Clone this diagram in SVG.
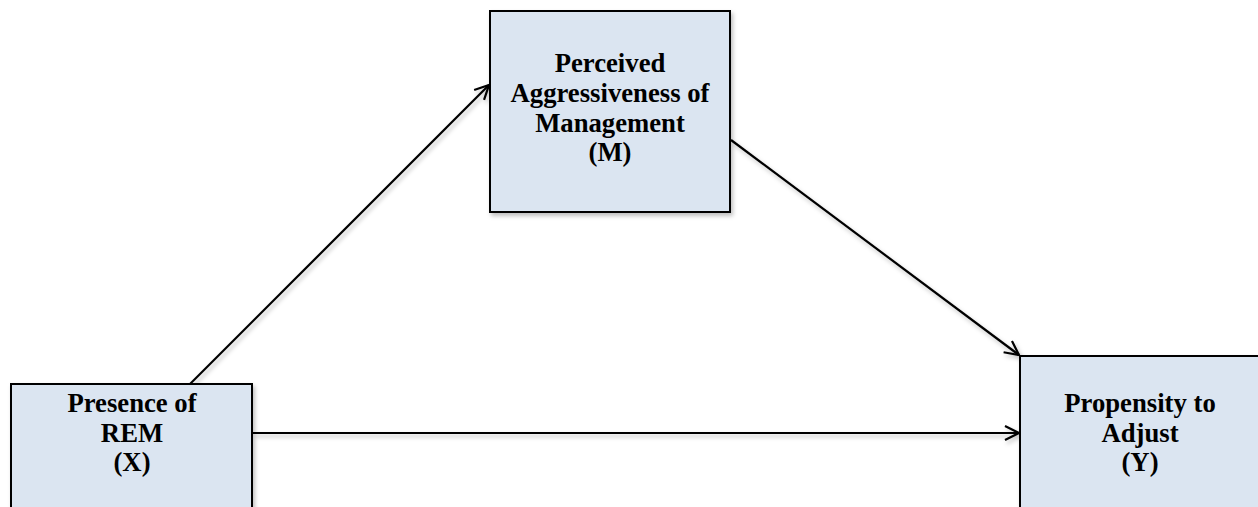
<svg xmlns="http://www.w3.org/2000/svg" width="1258" height="507" viewBox="0 0 1258 507">
  <style>
    .box { fill: #dbe5f1; stroke: #000; stroke-width: 2; }
    .lbl { font-family: "Liberation Serif", "Times New Roman", serif; font-weight: bold; font-size: 26.7px; fill: #000; text-anchor: middle; }
    .edge { stroke: #000; stroke-width: 2.2; fill: none; marker-end: url(#arrow); }
  </style>
  <defs>
    <marker id="arrow" markerUnits="userSpaceOnUse" markerWidth="20" markerHeight="20" refX="15" refY="8" orient="auto">
      <path d="M1,1 L15,8 L1,15" fill="none" stroke="#000" stroke-width="2.2"/>
    </marker>
    <filter id="shadow" x="-10%" y="-10%" width="130%" height="130%">
      <feDropShadow dx="2" dy="3" stdDeviation="2" flood-color="#000" flood-opacity="0.25"/>
    </filter>
  </defs>
  <rect width="1258" height="507" fill="#fff"/>
  <g id="connectors" filter="url(#shadow)">
    <line class="edge" x1="190" y1="384" x2="489" y2="85"/>
    <line class="edge" x1="731" y1="140" x2="1019" y2="355"/>
    <line class="edge" x1="253" y1="433" x2="1019" y2="433"/>
  </g>
  <g id="node-M">
    <rect class="box" x="490" y="11" width="240" height="201" filter="url(#shadow)"/>
    <text class="lbl" x="610" y="72">Perceived</text>
    <text class="lbl" x="610" y="102">Aggressiveness of</text>
    <text class="lbl" x="610" y="132">Management</text>
    <text class="lbl" x="610" y="161">(M)</text>
  </g>
  <g id="node-X">
    <rect class="box" x="11" y="384" width="241" height="140" filter="url(#shadow)"/>
    <text class="lbl" x="132" y="412">Presence of</text>
    <text class="lbl" x="132" y="442">REM</text>
    <text class="lbl" x="132" y="471">(X)</text>
  </g>
  <g id="node-Y">
    <rect class="box" x="1020" y="356" width="240" height="170" filter="url(#shadow)"/>
    <text class="lbl" x="1140" y="412">Propensity to</text>
    <text class="lbl" x="1140" y="442">Adjust</text>
    <text class="lbl" x="1140" y="471">(Y)</text>
  </g>
</svg>
